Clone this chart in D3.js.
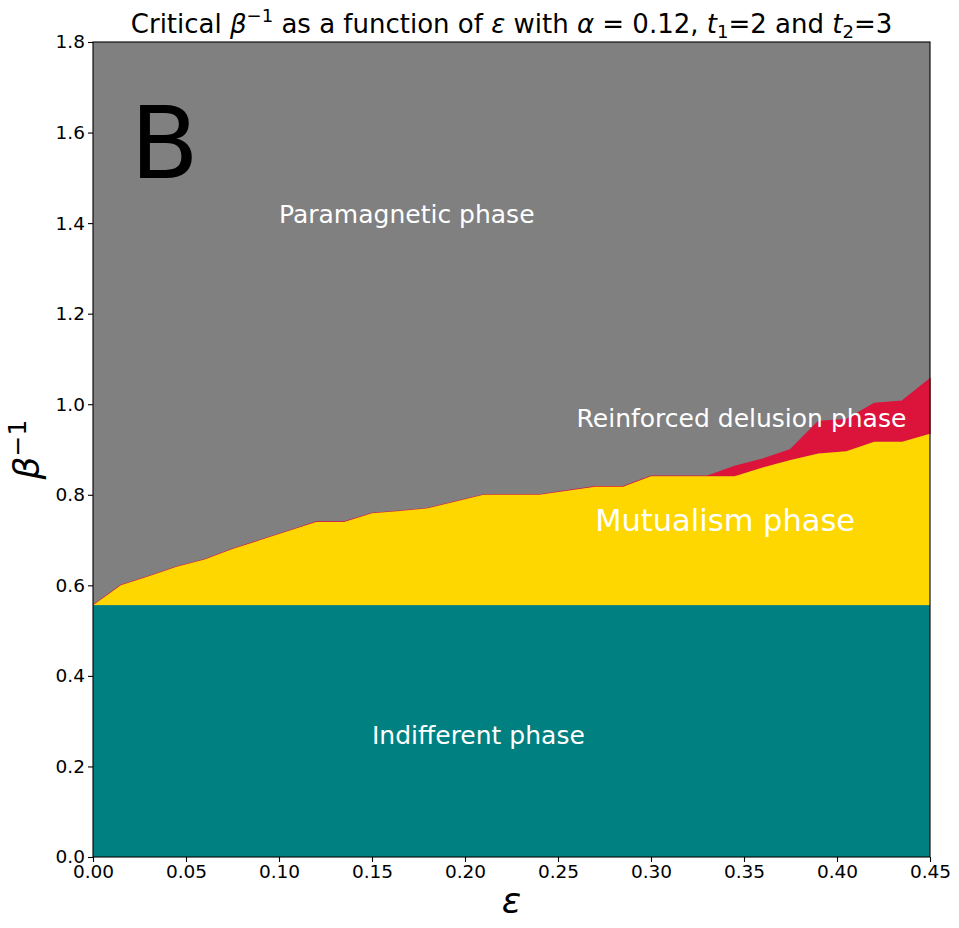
<!DOCTYPE html>
<html>
<head>
<meta charset="utf-8">
<script src="https://cdn.jsdelivr.net/npm/d3@7"></script>
<style>
    body { margin: 0; background: #fff; }
    svg { display: block; font-family: "DejaVu Sans", sans-serif; }
</style>
</head>
<body>
<svg id="chart" width="959" height="928"></svg>
<script>
// epsilon grid
const eps = [0, 0.015, 0.03, 0.045, 0.06, 0.075, 0.09, 0.105, 0.12, 0.135,
             0.15, 0.165, 0.18, 0.195, 0.21, 0.225, 0.24, 0.255, 0.27, 0.285,
             0.30, 0.315, 0.33, 0.345, 0.36, 0.375, 0.39, 0.405, 0.42, 0.435, 0.45];

// critical beta^-1 : indifferent / mutualism boundary (flat)
const indifferentTop = 0.556;

// mutualism / reinforced delusion boundary
const mutualismTop = [0.556, 0.600, 0.620, 0.641, 0.657, 0.680, 0.700, 0.720, 0.740, 0.740,
                      0.759, 0.764, 0.770, 0.785, 0.800, 0.800, 0.800, 0.809, 0.818, 0.818,
                      0.841, 0.841, 0.841, 0.841, 0.860, 0.877, 0.891, 0.896, 0.917, 0.917, 0.935];

// reinforced delusion / paramagnetic boundary
const delusionTop = [0.556, 0.600, 0.620, 0.641, 0.657, 0.680, 0.700, 0.720, 0.740, 0.740,
                     0.759, 0.764, 0.770, 0.785, 0.800, 0.800, 0.800, 0.809, 0.818, 0.818,
                     0.841, 0.841, 0.841, 0.863, 0.879, 0.900, 0.962, 0.966, 1.002, 1.007, 1.056];

const xTicks = [0, 0.05, 0.10, 0.15, 0.20, 0.25, 0.30, 0.35, 0.40, 0.45];
const yTicks = [0, 0.2, 0.4, 0.6, 0.8, 1.0, 1.2, 1.4, 1.6, 1.8];

const phaseLabels = [
    { text: "Paramagnetic phase", x: 0.10, y: 1.40, size: 25 },
    { text: "Reinforced delusion phase", x: 0.26, y: 0.95, size: 25 },
    { text: "Mutualism phase", x: 0.27, y: 0.72, size: 30.5 },
    { text: "Indifferent phase", x: 0.15, y: 0.25, size: 25 }
];

const COLORS = {
    para: "#808080",
    delusion: "#DC143C",
    mutualism: "#FFD700",
    indifferent: "#008080"
};

const W = 959, H = 928;
const margin = { top: 42, right: 29, bottom: 71, left: 93 };
const iw = W - margin.left - margin.right;
const ih = H - margin.top - margin.bottom;

const svg = d3.select("#chart");
const g = svg.append("g").attr("transform", `translate(${margin.left},${margin.top})`);

const x = d3.scaleLinear().domain([0, 0.45]).range([0, iw]);
const y = d3.scaleLinear().domain([0, 1.8]).range([ih, 0]);

const rows = eps.map((e, i) => ({ e, m: mutualismTop[i], d: delusionTop[i] }));

// background = paramagnetic
g.append("rect").attr("width", iw).attr("height", ih).attr("fill", COLORS.para);

const area = (lo, hi) => d3.area().x(d => x(d.e)).y0(lo).y1(hi);

// reinforced delusion band
g.append("path").datum(rows)
    .attr("d", area(d => y(d.m), d => y(d.d)))
    .attr("fill", COLORS.delusion)
    .attr("stroke", COLORS.delusion).attr("stroke-width", 1.2);

// mutualism band
g.append("path").datum(rows)
    .attr("d", area(() => y(indifferentTop), d => y(d.m)))
    .attr("fill", COLORS.mutualism);

// indifferent band
g.append("path").datum(rows)
    .attr("d", area(() => y(0), () => y(indifferentTop)))
    .attr("fill", COLORS.indifferent);

// phase labels
g.selectAll("text.phase").data(phaseLabels).enter().append("text")
    .attr("class", "phase")
    .attr("x", d => x(d.x)).attr("y", d => y(d.y))
    .attr("fill", "#fff").attr("font-size", d => d.size + "px")
    .text(d => d.text);

// panel letter
g.append("text")
    .attr("x", x(0.02)).attr("y", y(1.5))
    .attr("font-size", "100px").attr("fill", "#000")
    .text("B");

// axes
const xAxis = g.append("g").attr("transform", `translate(0,${ih})`)
    .call(d3.axisBottom(x).tickValues(xTicks).tickFormat(d3.format(".2f")).tickSizeOuter(0).tickSize(5).tickPadding(3));
const yAxis = g.append("g")
    .call(d3.axisLeft(y).tickValues(yTicks).tickFormat(d3.format(".1f")).tickSizeOuter(0).tickSize(5).tickPadding(3));

[xAxis, yAxis].forEach(a => {
    a.attr("font-size", 18.5).attr("font-family", "DejaVu Sans");
    a.selectAll("text").attr("fill", "#000");
    a.selectAll("line").attr("stroke", "#000").attr("stroke-width", 1.1);
    a.select(".domain").remove();
});

// spines
g.append("rect").attr("width", iw).attr("height", ih)
    .attr("fill", "none").attr("stroke", "#000").attr("stroke-width", 1.1);

// title
const title = svg.append("text")
    .attr("x", margin.left + iw / 2).attr("y", 33)
    .attr("text-anchor", "middle").attr("font-size", "26px").attr("fill", "#000");
title.append("tspan").text("Critical ");
title.append("tspan").attr("font-style", "italic").text("β");
title.append("tspan").attr("font-size", "18px").attr("dy", -11).text("−1");
title.append("tspan").attr("dy", 11).text(" as a function of ");
title.append("tspan").attr("font-style", "italic").text("ε");
title.append("tspan").text(" with ");
title.append("tspan").attr("font-style", "italic").text("α");
title.append("tspan").text(" = 0.12, ");
title.append("tspan").attr("font-style", "italic").text("t");
title.append("tspan").attr("font-size", "18px").attr("dy", 5).text("1");
title.append("tspan").attr("dy", -5).text("=2 and ");
title.append("tspan").attr("font-style", "italic").text("t");
title.append("tspan").attr("font-size", "18px").attr("dy", 5).text("2");
title.append("tspan").attr("dy", -5).text("=3");

// x label
svg.append("text")
    .attr("x", margin.left + iw / 2).attr("y", 913)
    .attr("text-anchor", "middle").attr("font-size", "36px").attr("font-style", "italic")
    .text("ε");

// y label
const yl = svg.append("text")
    .attr("transform", `translate(39,${margin.top + ih / 2}) rotate(-90)`)
    .attr("text-anchor", "middle").attr("font-size", "36px");
yl.append("tspan").attr("font-style", "italic").text("β");
yl.append("tspan").attr("font-size", "25px").attr("dy", -13).text("−1");
</script>
</body>
</html>
